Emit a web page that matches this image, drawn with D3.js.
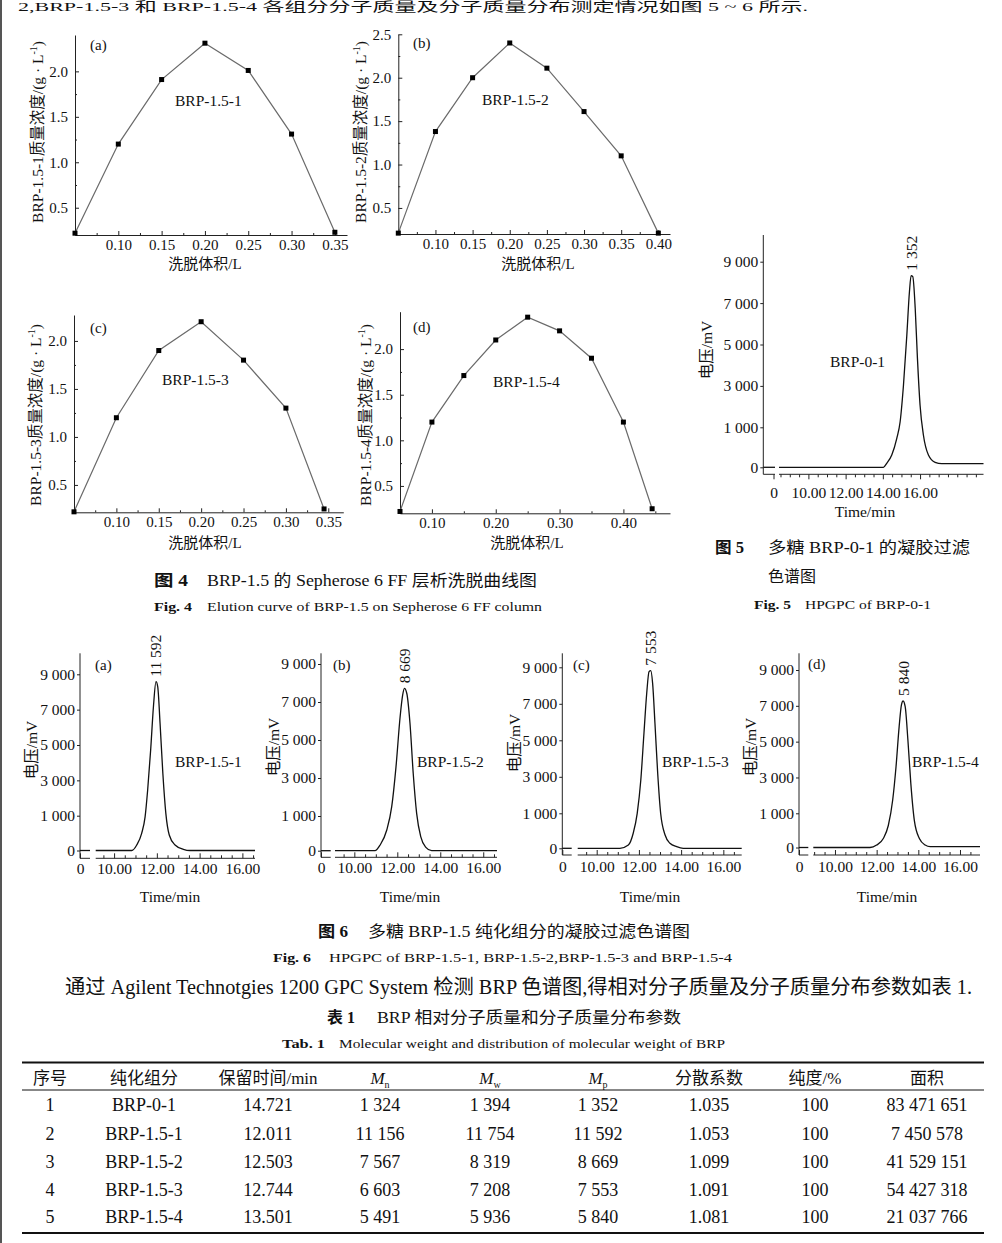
<!DOCTYPE html>
<html><head><meta charset="utf-8">
<script src="https://cdn.jsdelivr.net/npm/d3@7"></script>
<style>
body{margin:0;background:#fff}
svg{display:block;background:#fff}
text{font-family:"Liberation Serif","Noto Sans CJK SC",serif;fill:#111}
.cjk{font-family:"Noto Sans CJK SC","Liberation Serif",sans-serif}
</style>
</head><body>
<svg id="c" width="1002" height="1243"></svg>
<script>
// ================= DATA =================
// Fig.4 elution curves (elution volume / L, concentration g/L)
const volA = [0.05,0.10,0.15,0.20,0.25,0.30,0.35];
const concA = [0.22,1.20,1.91,2.31,2.01,1.31,0.23];
const volB = [0.05,0.10,0.15,0.20,0.25,0.30,0.35,0.40];
const concB = [0.21,1.38,2.00,2.40,2.11,1.61,1.10,0.21];
const volC = [0.05,0.10,0.15,0.20,0.25,0.30,0.345];
const concC = [0.22,1.20,1.90,2.20,1.80,1.30,0.25];
const volD = [0.05,0.10,0.15,0.20,0.25,0.30,0.35,0.40,0.445];
const concD = [0.22,1.20,1.71,2.10,2.35,2.20,1.90,1.20,0.25];
const namesFig4 = ["BRP-1.5-1","BRP-1.5-2","BRP-1.5-3","BRP-1.5-4"];
const xTicksA = [0.10,0.15,0.20,0.25,0.30,0.35];
const xTicksB = [0.10,0.15,0.20,0.25,0.30,0.35,0.40];
const xTicksD = [0.10,0.20,0.30,0.40];
const yTicks20 = [0.5,1.0,1.5,2.0];
const yTicks25 = [0.5,1.0,1.5,2.0,2.5];

// Fig.5 / Fig.6 HPGPC chromatograms (time / min, voltage / mV)
const time0 = [8.42,14.03,14.21,14.48,14.75,14.93,15.11,15.29,15.43,15.52,15.61,15.74,15.86,16.00,16.18,16.45,16.81,17.17,19.41];
const mv0   = [0,0,100,308,725,1270,3045,5460,7550,8325,8275,6750,4330,2080,807,308,125,90,90];
const time1 = [9.14,10.83,11.06,11.29,11.45,11.57,11.71,11.84,11.96,12.04,12.15,12.28,12.42,12.58,12.85,13.24,13.55,16.59];
const mv1   = [0,0,158,494,966,2454,4716,7165,8580,8300,6230,3400,1135,445,158,35,0,0];
const time2 = [9.10,10.96,11.20,11.51,11.74,11.94,12.13,12.25,12.33,12.44,12.59,12.74,12.90,13.09,13.33,13.60,16.64];
const mv2   = [0,0,164,597,1490,3600,6210,7370,7720,7460,5880,3250,1140,403,98,0,0];
const time3 = [9.10,11.10,11.50,11.73,11.92,12.09,12.24,12.37,12.48,12.56,12.65,12.76,12.89,13.03,13.24,13.47,13.79,14.10,16.87];
const mv3   = [0,0,94,429,1000,2826,5400,7580,8760,8814,8120,5930,3190,1000,380,143,46,0,0];
const time4 = [8.96,11.68,12.00,12.32,12.56,12.77,12.93,13.08,13.19,13.27,13.37,13.50,13.64,13.81,14.05,14.33,14.57,16.96];
const mv4   = [0,0,71,263,643,1743,3600,5840,7050,7270,6950,5090,2670,786,263,71,23,23];
const peakMp = ["1 352","11 592","8 669","7 553","5 840"];
const gpcNames = ["BRP-0-1","BRP-1.5-1","BRP-1.5-2","BRP-1.5-3","BRP-1.5-4"];
const mvTicks = [0,1000,3000,5000,7000,9000];
const timeTicks = [0,10,12,14,16];

// Table 1
const tblHeader = ["序号","纯化组分","保留时间/min","Mn","Mw","Mp","分散系数","纯度/%","面积"];
const tblNo = ["1","2","3","4","5"];
const tblFraction = ["BRP-0-1","BRP-1.5-1","BRP-1.5-2","BRP-1.5-3","BRP-1.5-4"];
const tblRetention = ["14.721","12.011","12.503","12.744","13.501"];
const tblMn = ["1 324","11 156","7 567","6 603","5 491"];
const tblMw = ["1 394","11 754","8 319","7 208","5 936"];
const tblMp = ["1 352","11 592","8 669","7 553","5 840"];
const tblDisp = ["1.035","1.053","1.099","1.091","1.081"];
const tblPurity = ["100","100","100","100","100"];
const tblArea = ["83 471 651","7 450 578","41 529 151","54 427 318","21 037 766"];

// ================= DRAWING =================
const svg = d3.select("#c");
const AX = "#222";

function styleAxis(g, fs){
  g.attr("font-family", null).attr("font-size", fs).attr("color", AX);
  g.selectAll("text").attr("fill","#111");
}

function elution(p){
  const g = svg.append("g");
  const x = d3.scaleLinear().domain(p.xDom).range([p.left, p.right]);
  const y = d3.scaleLinear().domain(p.yDom).range([p.bottom, p.top]);
  const gx = g.append("g").attr("transform",`translate(0,${p.bottom})`)
    .call(d3.axisBottom(x).tickValues(p.xTicks).tickFormat(d3.format(".2f")).tickSizeInner(-4).tickSizeOuter(0).tickPadding(4));
  styleAxis(gx, 15);
  const minors = [];
  for(let i=0;i<p.xTicks.length;i++){ const v = p.xTicks[i] - p.xStep/2; if(v > p.xDom[0]+1e-6) minors.push(v); }
  const last = p.xTicks[p.xTicks.length-1] + p.xStep/2; if(last < p.xDom[1]) minors.push(last);
  const gxm = g.append("g").attr("transform",`translate(0,${p.bottom})`)
    .call(d3.axisBottom(x).tickValues(minors).tickFormat("").tickSizeInner(-2).tickSizeOuter(0));
  gxm.select(".domain").remove(); gxm.attr("color",AX);
  const gy = g.append("g").attr("transform",`translate(${p.left},0)`)
    .call(d3.axisLeft(y).tickValues(p.yTicks).tickFormat(d3.format(".1f")).tickSizeInner(-4).tickSizeOuter(0).tickPadding(7));
  styleAxis(gy, 15);
  const ym = p.yTicks.map(v=>v-0.25).filter(v=>v>p.yDom[0]);
  const gym = g.append("g").attr("transform",`translate(${p.left},0)`)
    .call(d3.axisLeft(y).tickValues(ym).tickFormat("").tickSizeInner(-2).tickSizeOuter(0));
  gym.select(".domain").remove(); gym.attr("color",AX);

  const pts = p.vol.map((v,i)=>[v,p.conc[i]]);
  g.append("path").datum(pts).attr("fill","none").attr("stroke","#6a6a6a").attr("stroke-width",1.2)
    .attr("d", d3.line().x(d=>x(d[0])).y(d=>y(d[1])));
  g.selectAll("rect.m").data(pts).join("rect").attr("class","m")
    .attr("x",d=>x(d[0])-2.5).attr("y",d=>y(d[1])-2.5).attr("width",5).attr("height",5).attr("fill","#000");

  g.append("text").attr("x",p.letter[0]).attr("y",p.letter[1]).attr("font-size",15).text(p.letterText);
  g.append("text").attr("x",p.name[0]).attr("y",p.name[1]).attr("font-size",15.5).text(p.nameText);
  g.append("text").attr("x",p.xl[0]).attr("y",p.xl[1]).attr("text-anchor","middle").attr("font-size",15).text("洗脱体积/L");
  const yl = g.append("text").attr("transform",`translate(${p.yl[0]},${p.yl[1]}) rotate(-90)`)
    .attr("text-anchor","middle").attr("font-size",15.5);
  yl.append("tspan").text(p.nameText + "质量浓度/(g · L");
  yl.append("tspan").attr("font-size",10).attr("dy",-6).text("-1");
  yl.append("tspan").attr("dy",6).text(")");
}

const fmtMv = d => d===0 ? "0" : d3.format(",")(d).replace(/,/g," ");
const fmtT = d => d===0 ? "0" : d3.format(".2f")(d);

function gpc(p){
  const g = svg.append("g");
  const x = d3.scaleLinear().domain(p.xDom).range(p.xRng);
  const y = d3.scaleLinear().domain([0,1000,9000]).range(p.yRng);
  const x0 = p.xRng[0];
  g.append("line").attr("x1",x0).attr("x2",x0).attr("y1",p.top).attr("y2",p.axisY).attr("stroke",AX);
  const gy = g.append("g").attr("transform",`translate(${x0},0)`)
    .call(d3.axisLeft(y).tickValues(mvTicks).tickFormat(fmtMv).tickSizeInner(3).tickSizeOuter(0).tickPadding(2));
  gy.select(".domain").remove(); styleAxis(gy, 15.5);
  [[p.xDom[0],p.xDom[1]],[p.xDom[2],p.xDom[3]]].forEach(s=>{
    g.append("line").attr("x1",x(s[0])).attr("x2",x(s[1])).attr("y1",p.axisY).attr("y2",p.axisY).attr("stroke",AX);
  });
  const gx = g.append("g").attr("transform",`translate(0,${p.axisY})`)
    .call(d3.axisBottom(x).tickValues(timeTicks).tickFormat(fmtT).tickSizeInner(p.tdir*5).tickSizeOuter(0).tickPadding(p.pad));
  gx.select(".domain").remove(); styleAxis(gx, 15.5);
  const minors = d3.range(Math.ceil(p.xDom[2]*2)/2, p.xDom[3], 0.5).filter(v=>!timeTicks.includes(v));
  const gxm = g.append("g").attr("transform",`translate(0,${p.axisY})`)
    .call(d3.axisBottom(x).tickValues(minors).tickFormat("").tickSizeInner(p.tdir*3).tickSizeOuter(0));
  gxm.select(".domain").remove(); gxm.attr("color",AX);

  const line = d3.line().x(d=>x(d[0])).y(d=>y(d[1])).curve(d3.curveMonotoneX);
  const stub = [[p.xDom[0],p.mv[0]],[p.xDom[1],p.mv[0]]];
  g.append("path").datum(stub).attr("fill","none").attr("stroke","#111").attr("stroke-width",1.3).attr("d",line);
  const pts = p.time.map((t,i)=>[t,p.mv[i]]);
  g.append("path").datum(pts).attr("fill","none").attr("stroke","#111").attr("stroke-width",1.3).attr("d",line);

  const pk = pts.reduce((a,b)=> b[1]>a[1]?b:a);
  g.append("text").attr("transform",`translate(${x(pk[0])},${y(pk[1])-5}) rotate(-90)`)
    .attr("dominant-baseline","central").attr("font-size",15.5).text(p.peak);
  if(p.letterText) g.append("text").attr("x",p.letter[0]).attr("y",p.letter[1]).attr("font-size",15).text(p.letterText);
  g.append("text").attr("x",p.name[0]).attr("y",p.name[1]).attr("font-size",15.5).text(p.nameText);
  g.append("text").attr("x",p.xl[0]).attr("y",p.xl[1]).attr("text-anchor","middle").attr("font-size",15.5).text("Time/min");
  g.append("text").attr("transform",`translate(${p.yl[0]},${p.yl[1]}) rotate(-90)`)
    .attr("text-anchor","middle").attr("font-size",15.5).text("电压/mV");
}

// page frame + top line of running text
svg.append("line").attr("x1",1).attr("x2",1).attr("y1",0).attr("y2",1243).attr("stroke","#555").attr("stroke-width",2);
svg.append("text").attr("x",18).attr("y",11).attr("font-size",13).attr("fill","#444")
  .attr("textLength",790).attr("lengthAdjust","spacingAndGlyphs")
  .text("2,BRP-1.5-3 和 BRP-1.5-4 各组分分子质量及分子质量分布测定情况如图 5 ~ 6 所示.");

// Fig.4
elution({vol:volA,conc:concA,xDom:[0.05,0.364],yDom:[0.2,2.4],left:75,right:347,top:35,bottom:235,
  xTicks:xTicksA,xStep:0.05,yTicks:yTicks20,letter:[90,50],letterText:"(a)",name:[175,106],nameText:namesFig4[0],xl:[205,269],yl:[43,132]});
elution({vol:volB,conc:concB,xDom:[0.05,0.4157],yDom:[0.2,2.5],left:398.3,right:670,top:34.3,bottom:234,
  xTicks:xTicksB,xStep:0.05,yTicks:yTicks25,letter:[413,48],letterText:"(b)",name:[482,105],nameText:namesFig4[1],xl:[538,269],yl:[366,132]});
elution({vol:volC,conc:concC,xDom:[0.05,0.3677],yDom:[0.215,2.27],left:74,right:343.3,top:315,bottom:512.3,
  xTicks:xTicksA,xStep:0.05,yTicks:yTicks20,letter:[90,333],letterText:"(c)",name:[162,385],nameText:namesFig4[2],xl:[205,548],yl:[41,415]});
elution({vol:volD,conc:concD,xDom:[0.05,0.473],yDom:[0.2,2.41],left:400,right:670,top:311.7,bottom:513.3,
  xTicks:xTicksD,xStep:0.1,yTicks:yTicks20,letter:[413,332],letterText:"(d)",name:[493,387],nameText:namesFig4[3],xl:[527,548],yl:[371,415]});

// Fig.5
gpc({time:time0,mv:mv0,xDom:[-0.55,0.08,8.42,19.41],xRng:[763.3,775,779,983.5],yRng:[467.3,427.3,261.7],
  top:235,axisY:474.3,tdir:1,pad:8,peak:peakMp[0],name:[830,367],nameText:gpcNames[0],xl:[865,517],yl:[712,350]});
// Fig.6
gpc({time:time1,mv:mv1,xDom:[0,0.47,9.14,16.59],xRng:[80,90,95.7,255],yRng:[850.5,815.7,674.3],
  top:653.3,axisY:858.3,tdir:-1,pad:4.5,peak:peakMp[1],letter:[95,670],letterText:"(a)",name:[175,767],nameText:gpcNames[1],xl:[170,902],yl:[37,750]});
gpc({time:time2,mv:mv2,xDom:[0,0.45,9.1,16.64],xRng:[321,330.7,335,497],yRng:[850.7,816,664],
  top:653.3,axisY:857.3,tdir:-1,pad:4.5,peak:peakMp[2],letter:[333,670],letterText:"(b)",name:[417,767],nameText:gpcNames[2],xl:[410,902],yl:[279,747]});
gpc({time:time3,mv:mv3,xDom:[0,0.45,9.1,16.87],xRng:[562.3,571.7,577.7,741.7],yRng:[848.3,813.3,667.3],
  top:653.3,axisY:855,tdir:-1,pad:6,peak:peakMp[3],letter:[573,670],letterText:"(c)",name:[662,767],nameText:gpcNames[3],xl:[650,902],yl:[520,743]});
gpc({time:time4,mv:mv4,xDom:[0,0.45,8.96,16.96],xRng:[799,808.3,813.3,980],yRng:[847.5,813.3,670],
  top:653.3,axisY:855,tdir:-1,pad:6,peak:peakMp[4],letter:[808,669],letterText:"(d)",name:[912,767],nameText:gpcNames[4],xl:[887,902],yl:[756,747]});

// captions
function cap(x1, w1, t1, x2, w2, t2, y, fs){
  svg.append("text").attr("x",x1).attr("y",y).attr("font-size",fs).attr("font-weight","bold")
    .attr("textLength",w1).attr("lengthAdjust","spacingAndGlyphs").text(t1);
  svg.append("text").attr("x",x2).attr("y",y).attr("font-size",fs)
    .attr("textLength",w2).attr("lengthAdjust","spacingAndGlyphs").text(t2);
}
cap(154,34,"图 4",207,330,"BRP-1.5 的 Sepherose 6 FF 层析洗脱曲线图",586,16);
cap(154,38,"Fig. 4",207,335,"Elution curve of BRP-1.5 on Sepherose 6 FF column",611,13.5);
cap(715,29,"图 5",768,202,"多糖 BRP-0-1 的凝胶过滤",553,16);
svg.append("text").attr("x",768).attr("y",582).attr("font-size",16).text("色谱图");
cap(754,37,"Fig. 5",805,126,"HPGPC of BRP-0-1",609,13.5);
cap(318,30,"图 6",368,322,"多糖 BRP-1.5 纯化组分的凝胶过滤色谱图",937,16);
cap(273,38,"Fig. 6",329,403,"HPGPC of BRP-1.5-1, BRP-1.5-2,BRP-1.5-3 and BRP-1.5-4",962,13.5);
svg.append("text").attr("x",65).attr("y",994).attr("font-size",20)
  .attr("textLength",907).attr("lengthAdjust","spacingAndGlyphs")
  .text("通过 Agilent Technotgies 1200 GPC System 检测 BRP 色谱图,得相对分子质量及分子质量分布参数如表 1.");
cap(327,28,"表 1",377,304,"BRP 相对分子质量和分子质量分布参数",1023,16);
cap(282,43,"Tab. 1",339,386,"Molecular weight and distribution of molecular weight of BRP",1048,13.5);

// Table 1
const colX = [50,144,268,380,490,598,709,815,927];
const rowY = [1111,1139.5,1168,1196,1223];
svg.append("line").attr("x1",22).attr("x2",984).attr("y1",1062.5).attr("y2",1062.5).attr("stroke","#111").attr("stroke-width",2.2);
svg.append("line").attr("x1",22).attr("x2",984).attr("y1",1090).attr("y2",1090).attr("stroke","#111").attr("stroke-width",1);
svg.append("line").attr("x1",22).attr("x2",984).attr("y1",1233).attr("y2",1233).attr("stroke","#111").attr("stroke-width",2.2);
tblHeader.forEach((h,i)=>{
  const t = svg.append("text").attr("x",colX[i]).attr("y",1084).attr("text-anchor","middle").attr("font-size",17);
  if(h.length===2 && h[0]==="M"){
    t.append("tspan").attr("font-style","italic").text("M");
    t.append("tspan").attr("font-size",10).attr("dy",4).text(h[1]);
  } else {
    t.text(h);
  }
});
const cols = [tblNo,tblFraction,tblRetention,tblMn,tblMw,tblMp,tblDisp,tblPurity,tblArea];
cols.forEach((col,ci)=>{
  svg.selectAll(null).data(col).join("text")
    .attr("x",colX[ci]).attr("y",(d,ri)=>rowY[ri]).attr("text-anchor","middle").attr("font-size",18).text(d=>d);
});
</script>
</body></html>
